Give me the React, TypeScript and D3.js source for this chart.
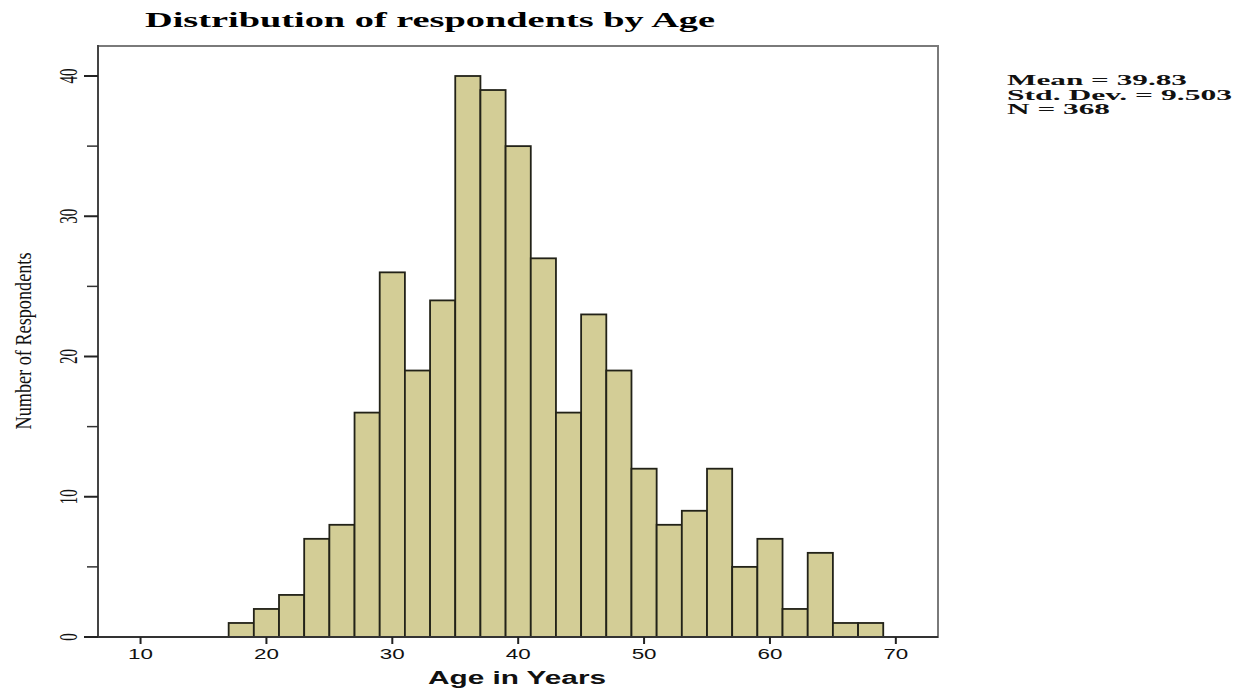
import React from "react";
import * as d3 from "d3";

const binStarts = [17, 19, 21, 23, 25, 27, 29, 31, 33, 35, 37, 39, 41, 43, 45, 47, 49, 51, 53, 55, 57, 59, 61, 63, 65, 67];
const counts = [1, 2, 3, 7, 8, 16, 26, 19, 24, 40, 39, 35, 27, 16, 23, 19, 12, 8, 9, 12, 5, 7, 2, 6, 1, 1];
const binWidth = 2;
const xTicks = [10, 20, 30, 40, 50, 60, 70];
const yTicks = [0, 10, 20, 30, 40];
const yMinorTicks = [5, 15, 25, 35];
const statLines = ["Mean = 39.83", "Std. Dev. = 9.503", "N = 368"];
const statWidths = [180, 225, 103];

const W = 1245, H = 689;
const L = 98, R = 938, T = 46, B = 637;

export default function App() {
  const x = d3.scaleLinear().domain([6.62, 73.35]).range([L, R]);
  const y = d3.scaleLinear().domain([0, 40]).range([B, 76]);
  const serif = "'Liberation Serif', 'Times New Roman', serif";
  const sans = "'Liberation Sans', Arial, sans-serif";
  return (
    <svg width={W} height={H} style={{ position: "absolute", left: 0, top: 0, background: "#fff" }}>
      <text x={(145 + 715) / 2} y={27} textAnchor="middle" fontFamily={serif} fontWeight="bold" fontSize={21}
        textLength={570} lengthAdjust="spacingAndGlyphs">Distribution of respondents by Age</text>
      <rect x={L} y={T} width={R - L} height={B - T} fill="#fff" stroke="#7a7a7a" strokeWidth={2} />
      {binStarts.map((s, i) => (
        <rect key={i} x={x(s)} y={y(counts[i])} width={x(s + binWidth) - x(s)} height={B - y(counts[i])}
          fill="#d3cd96" stroke="#222218" strokeWidth={1.8} />
      ))}
      <line x1={L} x2={L} y1={T - 1} y2={B} stroke="#444" strokeWidth={2} />
      <line x1={L} x2={R} y1={B} y2={B} stroke="#333" strokeWidth={2} />
      {xTicks.map((t) => (
        <g key={t}>
          <line x1={x(t)} x2={x(t)} y1={B} y2={B + 7} stroke="#222" strokeWidth={2} />
          <text transform={`translate(${x(t)},659) scale(1.6,1)`} textAnchor="middle" fontFamily={sans} fontSize={14} fill="#111">{t}</text>
        </g>
      ))}
      {yTicks.map((t) => (
        <g key={t}>
          <line x1={84} x2={L} y1={y(t)} y2={y(t)} stroke="#222" strokeWidth={2} />
          <text transform={`translate(77,${y(t)}) scale(1.7,1) rotate(-90)`} textAnchor="middle" fontFamily={serif} fontSize={15} fill="#111">{t}</text>
        </g>
      ))}
      {yMinorTicks.map((t) => (
        <line key={t} x1={87} x2={L} y1={y(t)} y2={y(t)} stroke="#333" strokeWidth={1.5} />
      ))}
      <text transform={`translate(31,341) scale(1.7,1) rotate(-90)`} textAnchor="middle" fontFamily={serif} fontSize={14}
        textLength={177} lengthAdjust="spacingAndGlyphs" fill="#111">Number of Respondents</text>
      <text x={517} y={684} textAnchor="middle" fontFamily={sans} fontWeight="bold" fontSize={18}
        textLength={178} lengthAdjust="spacingAndGlyphs" fill="#111">Age in Years</text>
      {statLines.map((s, i) => (
        <text key={i} x={1007} y={85 + i * 14.5} fontFamily={serif} fontWeight="bold" fontSize={15}
          textLength={statWidths[i]} lengthAdjust="spacingAndGlyphs" fill="#111">{s}</text>
      ))}
    </svg>
  );
}
